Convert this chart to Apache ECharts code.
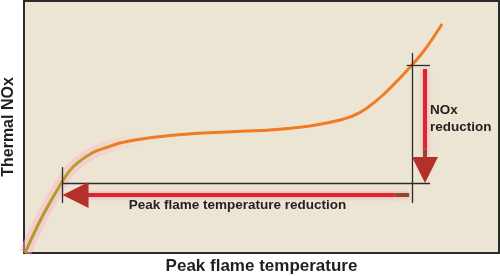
<!DOCTYPE html>
<html><head><meta charset="utf-8">
<script src="https://cdn.jsdelivr.net/npm/echarts@6/dist/echarts.min.js"></script>
<style>html,body{margin:0;padding:0;background:#fff;}#c{width:500px;height:276px;}</style>
</head><body><div id="c"></div>
<script>
// Curve: peak flame temperature (x, relative units) vs thermal NOx (y, relative units)
const tempX = [0.21, 3.79, 8.00, 10.32, 14.32, 17.68, 20.21, 23.37, 26.53, 30.74, 36.00, 41.26, 46.53, 51.79, 58.11, 62.32, 66.53, 69.26, 72.21, 75.58, 79.16, 81.68, 84.00, 86.11, 88.00];
const noxY  = [0, 14.29, 28.17, 34.13, 39.68, 42.06, 43.65, 44.84, 45.71, 46.63, 47.42, 47.94, 48.37, 48.81, 49.88, 51.07, 52.78, 54.37, 57.54, 62.70, 69.44, 74.60, 79.76, 85.32, 90.87];
// Annotation: operating points before / after reduction (temperature, NOx)
const highPoint = [81.68, 74.4];
const lowPoint  = [8.0, 27.8];
// Texts
const xTitle = 'Peak flame temperature';
const yTitle = 'Thermal NOx';
const tempLabel = 'Peak flame temperature reduction';
const noxLabel = ['NOx', 'reduction'];

const curve = tempX.map((x, i) => [x, noxY[i]]);
const chart = echarts.init(document.getElementById('c'), null, {renderer: 'canvas'});
const G = echarts.graphic;
const ink = '#2b2b2b';
const txt = '#231f20';
const font = '"Liberation Sans", Arial, Helvetica, sans-serif';

const hx = highPoint[0], hy = highPoint[1], lx = lowPoint[0], ly = lowPoint[1];
const vArrowX = hx + 2.74;   // red vertical arrow beside the black guide
const hArrowY = ly - 4.8;    // red horizontal arrow under the black guide

function seg(coords, color, width, glow) {
  return {coords: coords, lineStyle: {color: color, width: width, opacity: 1,
    shadowColor: glow ? 'rgba(255,120,150,0.7)' : 'transparent', shadowBlur: glow ? 5 : 0}};
}

const option = {
  animation: false,
  grid: {left: 24, right: 1, top: 1, bottom: 23, show: true, backgroundColor: '#ece5d4', borderColor: ink, borderWidth: 2},
  xAxis: {type: 'value', min: 0, max: 100, splitLine: {show: false}, axisTick: {show: false}, axisLabel: {show: false},
    axisLine: {show: true, lineStyle: {color: ink, width: 2}}},
  yAxis: {type: 'value', min: 0, max: 100, splitLine: {show: false}, axisTick: {show: false}, axisLabel: {show: false},
    axisLine: {show: true, lineStyle: {color: ink, width: 2}}},
  series: [
    {type: 'line', data: curve, smooth: 0.35, symbol: 'none', z: 2, silent: true,
      lineStyle: {width: 12, color: new G.LinearGradient(0, 0, 1, 0, [
        {offset: 0, color: 'rgba(255,175,195,0.5)'}, {offset: 0.18, color: 'rgba(255,175,195,0.4)'}, {offset: 0.3, color: 'rgba(255,175,195,0)'}, {offset: 1, color: 'rgba(255,175,195,0)'}])}},
    {type: 'line', data: curve, smooth: 0.35, symbol: 'none', z: 3,
      lineStyle: {width: 3, color: new G.LinearGradient(0, 0, 1, 0, [
        {offset: 0, color: '#a99c2c'}, {offset: 0.13, color: '#b09f2c'}, {offset: 0.22, color: '#f07a22'}, {offset: 1, color: '#f47a20'}])}},
    // black guides
    {type: 'lines', coordinateSystem: 'cartesian2d', symbol: 'none', z: 4, silent: true,
      data: [
        seg([[hx, hy + 5.0], [hx, ly - 8]], ink, 1.3),
        seg([[hx - 1.1, hy], [hx + 3.8, hy]], ink, 1.3),
        seg([[lx, ly], [hx + 3.8, ly]], ink, 1.3),
        seg([[lx, ly + 6.3], [lx, ly - 8]], ink, 1.3)
      ]},
    // red shafts
    {type: 'lines', coordinateSystem: 'cartesian2d', symbol: 'none', z: 5, silent: true,
      data: [
        seg([[vArrowX, hy - 1.4], [vArrowX, ly + 13.1]], '#dc2430', 4, true),
        seg([[vArrowX, ly + 13.1], [vArrowX, ly + 10.0]], '#8a4a2a', 4, true),
        seg([[hx - 0.6, hArrowY], [hx - 3.6, hArrowY]], '#8a4a2a', 4, true),
        seg([[hx - 3.6, hArrowY], [lx + 5.3, hArrowY]], '#d62a30', 4, true)
      ]},
    // arrow heads (symbol centred half a head-length before the tip)
    {type: 'lines', coordinateSystem: 'cartesian2d', z: 6, silent: true,
      symbol: ['none', 'triangle'], symbolSize: [16, 26],
      data: [
        {coords: [[vArrowX, ly + 6.5], [vArrowX, ly + 5.16]], lineStyle: {color: '#b5302a', width: 0, opacity: 1}},
        {coords: [[lx + 4.5, hArrowY], [lx + 2.85, hArrowY]], lineStyle: {color: '#b5302a', width: 0, opacity: 1}}
      ]}
  ],
  graphic: [
    {type: 'text', x: 261.5, y: 266, silent: true, style: {text: xTitle, fill: txt, font: 'bold 17px ' + font, textAlign: 'center', textVerticalAlign: 'middle'}},
    {type: 'text', x: 9, y: 127, rotation: Math.PI / 2, silent: true, style: {text: yTitle, fill: txt, font: 'bold 16px ' + font, textAlign: 'center', textVerticalAlign: 'middle'}},
    {type: 'text', x: 237.5, y: 205, silent: true, style: {text: tempLabel, fill: txt, font: 'bold 13.5px ' + font, textAlign: 'center', textVerticalAlign: 'middle'}},
    {type: 'text', x: 430, y: 110, silent: true, style: {text: noxLabel[0], fill: txt, font: 'bold 13.5px ' + font, textAlign: 'left', textVerticalAlign: 'middle'}},
    {type: 'text', x: 430, y: 127, silent: true, style: {text: noxLabel[1], fill: txt, font: 'bold 13.5px ' + font, textAlign: 'left', textVerticalAlign: 'middle'}}
  ]
};
chart.setOption(option);
</script></body></html>
